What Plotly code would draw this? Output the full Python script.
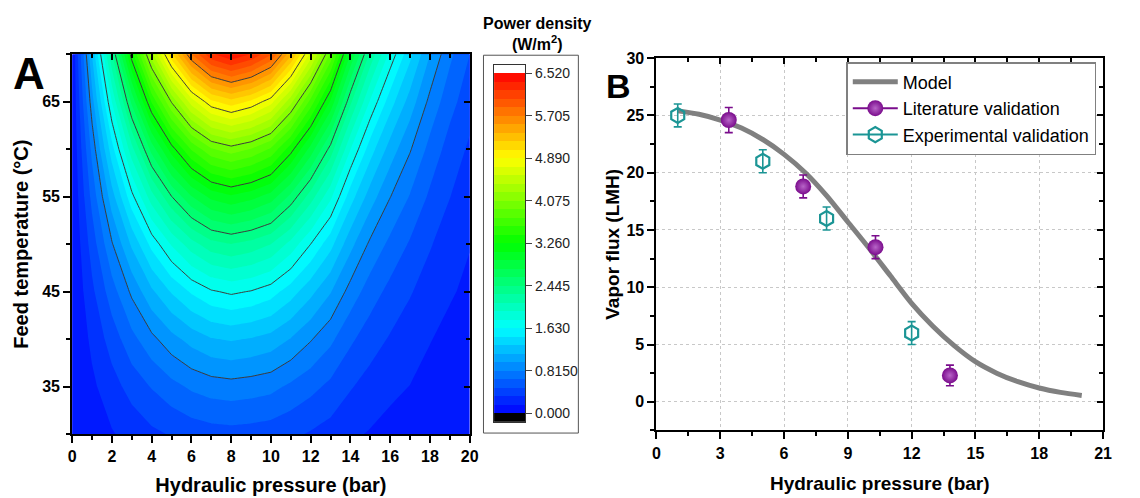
import plotly.graph_objects as go

pressure_A = list(range(0, 21))
temperature_A = [30, 35, 40, 45, 50, 55, 60, 65, 70]
power_density = [
    [0, 0.08, 0.15, 0.22, 0.29, 0.34, 0.39, 0.42, 0.43, 0.42, 0.40, 0.36, 0.31, 0.26, 0.19, 0.15, 0.11, 0.09, 0.06, 0.05, 0.03],
    [0, 0.13, 0.26, 0.39, 0.50, 0.60, 0.68, 0.73, 0.75, 0.73, 0.70, 0.62, 0.54, 0.45, 0.34, 0.26, 0.20, 0.16, 0.11, 0.08, 0.06],
    [0, 0.20, 0.40, 0.60, 0.77, 0.92, 1.04, 1.13, 1.16, 1.13, 1.08, 0.97, 0.83, 0.69, 0.52, 0.40, 0.31, 0.24, 0.17, 0.12, 0.09],
    [0, 0.29, 0.58, 0.85, 1.11, 1.32, 1.49, 1.61, 1.66, 1.62, 1.54, 1.38, 1.19, 0.99, 0.75, 0.57, 0.44, 0.34, 0.25, 0.18, 0.13],
    [0, 0.40, 0.80, 1.17, 1.52, 1.81, 2.05, 2.22, 2.28, 2.22, 2.12, 1.90, 1.63, 1.36, 1.03, 0.78, 0.61, 0.47, 0.34, 0.24, 0.17],
    [0, 0.54, 1.07, 1.58, 2.05, 2.44, 2.76, 2.98, 3.07, 2.99, 2.86, 2.56, 2.20, 1.83, 1.38, 1.06, 0.82, 0.64, 0.46, 0.33, 0.23],
    [0, 0.70, 1.40, 2.06, 2.67, 3.18, 3.60, 3.89, 4.00, 3.90, 3.72, 3.33, 2.87, 2.38, 1.80, 1.38, 1.07, 0.83, 0.60, 0.42, 0.30],
    [0, 0.91, 1.80, 2.65, 3.44, 4.09, 4.64, 5.01, 5.15, 5.02, 4.79, 4.29, 3.69, 3.07, 2.32, 1.77, 1.38, 1.07, 0.77, 0.55, 0.39],
    [0, 1.15, 2.27, 3.35, 4.34, 5.18, 5.86, 6.33, 6.51, 6.35, 6.05, 5.42, 4.67, 3.88, 2.93, 2.24, 1.74, 1.35, 0.98, 0.69, 0.49],
]
cb_levels = [0.0, 0.815, 1.63, 2.445, 3.26, 4.075, 4.89, 5.705, 6.52]
cb_labels = ["0.000", "0.8150", "1.630", "2.445", "3.260", "4.075", "4.890", "5.705", "6.520"]
n_bands = 40

# ---------------- Panel B data ----------------
model_p = [1, 2, 3, 4, 5, 6, 7, 8, 9, 10, 11, 12, 13, 14, 15, 16, 17, 18, 19, 20]
model_flux = [25.4, 25.1, 24.6, 23.9, 22.9, 21.6, 20.0, 18.0, 15.7, 13.4, 11.0, 8.6, 6.6, 4.9, 3.5, 2.5, 1.75, 1.2, 0.82, 0.55]
lit_p = [3.4, 6.9, 10.3, 13.8]
lit_flux = [24.6, 18.8, 13.5, 2.3]
lit_err = [1.1, 1.0, 1.0, 0.9]
exp_p = [1, 5, 8, 12]
exp_flux = [25.0, 21.0, 16.0, 6.0]
exp_err = [1.0, 1.0, 1.0, 1.0]

# ---------------- styling ----------------
W, H = 1140, 498
FONT = "Arial, 'Liberation Sans', sans-serif"
anchors = [(0.0, (0, 0, 255)), (0.25, (0, 255, 255)), (0.5, (0, 255, 0)), (0.75, (255, 255, 0)), (1.0, (255, 0, 0))]
rainbow = [[a, "rgb(%d,%d,%d)" % c] for a, c in anchors]


def ramp(f):
    for (a0, c0), (a1, c1) in zip(anchors[:-1], anchors[1:]):
        if a0 <= f <= a1:
            t = (f - a0) / (a1 - a0)
            return "rgb(%d,%d,%d)" % tuple(round(c0[i] + (c1[i] - c0[i]) * t) for i in range(3))
    return "rgb(255,0,0)"


step = cb_levels[-1] / n_bands
band_idx = list(range(-1, n_bands + 1))
band_colors = ["rgb(0,0,0)"] + [ramp((k + 0.5) / n_bands) for k in range(n_bands)] + ["rgb(255,255,255)"]
nb = len(band_colors)
cb_scale = []
for i, c in enumerate(band_colors):
    cb_scale.append([i / nb, c])
    cb_scale.append([(i + 1) / nb, c])


def px(x):
    return x / W


def py(y):
    return 1 - y / H


fig = go.Figure()

# filled contour
fig.add_trace(go.Contour(
    x=pressure_A, y=temperature_A, z=power_density,
    colorscale=rainbow, autocontour=False,
    contours=dict(start=0, end=6.6, size=step, coloring="fill", showlines=False),
    line=dict(width=0, smoothing=0), showscale=False, showlegend=False, hoverinfo="skip",
    xaxis="x", yaxis="y"))
# contour lines at major levels
fig.add_trace(go.Contour(
    x=pressure_A, y=temperature_A, z=power_density,
    autocontour=False,
    contours=dict(start=cb_levels[1], end=5.72, size=cb_levels[1], coloring="none"),
    line=dict(color="#3c3c3c", width=1, smoothing=0), showscale=False, showlegend=False,
    hoverinfo="skip", xaxis="x", yaxis="y"))

# colour bar drawn as heatmap
fig.add_trace(go.Heatmap(
    x=[0], y=[(k + 0.5) * step for k in band_idx], z=[[k] for k in band_idx],
    colorscale=cb_scale, zmin=-1.5, zmax=n_bands + 0.5, showscale=False, showlegend=False,
    hoverinfo="skip", xaxis="x3", yaxis="y3"))

# dummy traces to activate mirror axes
fig.add_trace(go.Scatter(x=[None], y=[None], xaxis="x5", yaxis="y5", showlegend=False, hoverinfo="skip"))
fig.add_trace(go.Scatter(x=[None], y=[None], xaxis="x6", yaxis="y6", showlegend=False, hoverinfo="skip"))

PURPLE = "#7a0c8c"
TEAL = "#1b9595"
GREY = "#808080"

fig.add_trace(go.Scatter(
    x=model_p, y=model_flux, mode="lines",
    line=dict(color=GREY, width=5, shape="spline", smoothing=0.8),
    name="Model", xaxis="x2", yaxis="y2", hoverinfo="skip"))
fig.add_trace(go.Scatter(
    x=lit_p, y=lit_flux, mode="markers", name="Literature validation", showlegend=False,
    legendgroup="lit",
    marker=dict(symbol="circle", size=16, color=PURPLE, line=dict(width=0),
                gradient=dict(type="radial", color="#b865c8")),
    error_y=dict(type="data", array=lit_err, color=PURPLE, thickness=1.6, width=4),
    xaxis="x2", yaxis="y2"))
fig.add_trace(go.Scatter(
    x=exp_p, y=exp_flux, mode="markers", name="Experimental validation", showlegend=False,
    legendgroup="exp",
    marker=dict(symbol="hexagon-open", size=15, color=TEAL, line=dict(width=2.2, color=TEAL)),
    error_y=dict(type="data", array=exp_err, color=TEAL, thickness=1.6, width=4),
    xaxis="x2", yaxis="y2"))
# legend entries (line + symbol as in reference)
fig.add_trace(go.Scatter(
    x=[None], y=[None], mode="lines+markers", name="Literature validation", legendgroup="lit",
    line=dict(color=PURPLE, width=2),
    marker=dict(symbol="circle", size=16, color=PURPLE, gradient=dict(type="radial", color="#b865c8")),
    xaxis="x2", yaxis="y2"))
fig.add_trace(go.Scatter(
    x=[None], y=[None], mode="lines+markers", name="Experimental validation", legendgroup="exp",
    line=dict(color=TEAL, width=2),
    marker=dict(symbol="hexagon-open", size=15, color=TEAL, line=dict(width=2.2, color=TEAL)),
    xaxis="x2", yaxis="y2"))

tickfont = dict(family=FONT, size=16, color="black", weight="bold")
titlefont = dict(family=FONT, size=20, color="black", weight="bold")
common = dict(showline=True, linecolor="black", linewidth=2, zeroline=False, tickcolor="black",
              tickwidth=2, tickfont=tickfont)

xA = [px(69), px(471)]
yA = [py(433), py(47)]
xB = [px(660), px(1111.7)]
yB = [py(429.3), py(51)]

fig.update_layout(
    width=W, height=H, margin=dict(l=0, r=0, t=0, b=0),
    paper_bgcolor="white", plot_bgcolor="white",
    font=dict(family=FONT, color="black"),
    showlegend=True,
    xaxis=dict(domain=xA, range=[0, 20], anchor="y", ticks="outside", ticklen=7, tick0=0, dtick=2,
               minor=dict(dtick=1, ticklen=4, tickwidth=2, ticks="outside", tickcolor="black"),
               showgrid=False, title=dict(text="Hydraulic pressure (bar)", font=titlefont, standoff=14),
               **common),
    yaxis=dict(domain=yA, range=[30, 70], anchor="x", ticks="outside", ticklen=7, tick0=35, dtick=10,
               minor=dict(dtick=5, ticklen=4, tickwidth=2, ticks="outside", tickcolor="black"),
               showgrid=False, title=dict(text="Feed temperature (°C)", font=titlefont, standoff=8),
               **common),
    xaxis5=dict(domain=xA, range=[0, 20], anchor="y", overlaying="x", side="top", ticks="inside",
                ticklen=6, tick0=0, dtick=2, showticklabels=False, showgrid=False,
                minor=dict(dtick=1, ticklen=4, tickwidth=2, ticks="inside", tickcolor="black"),
                **common),
    yaxis5=dict(domain=yA, range=[30, 70], anchor="x", overlaying="y", side="right", ticks="inside",
                ticklen=6, tick0=35, dtick=10, showticklabels=False, showgrid=False,
                minor=dict(dtick=5, ticklen=4, tickwidth=2, ticks="inside", tickcolor="black"),
                **common),
    xaxis3=dict(domain=[px(495.7), px(527.3)], range=[-0.5, 0.5], anchor="y3", showticklabels=False,
                ticks="", showgrid=False, zeroline=False, showline=True, mirror=True,
                linecolor="#333333", linewidth=1),
    yaxis3=dict(domain=[py(420.7), py(57.7)], range=[-step, cb_levels[-1] + step], anchor="x3",
                side="right", tickmode="array", tickvals=cb_levels, ticktext=cb_labels,
                ticks="outside", ticklen=6, tickwidth=1, tickcolor="#444444", showgrid=False,
                zeroline=False, showline=True, mirror=True, linecolor="#333333", linewidth=1,
                tickfont=dict(family=FONT, size=14, color="#222222")),
    xaxis2=dict(domain=xB, range=[0, 21], anchor="y2", ticks="outside", ticklen=7, tick0=0, dtick=3,
                minor=dict(dtick=1.5, ticklen=4, tickwidth=2, ticks="outside", tickcolor="black"),
                showgrid=True, gridcolor="#c8c8c8", griddash="dot", gridwidth=1,
                title=dict(text="Hydraulic pressure (bar)", font=dict(family=FONT, size=19, color="black", weight="bold"), standoff=16),
                **common),
    yaxis2=dict(domain=yB, range=[-2.5, 30], anchor="x2", ticks="outside", ticklen=7, tick0=0, dtick=5,
                minor=dict(dtick=2.5, ticklen=4, tickwidth=2, ticks="outside", tickcolor="black"),
                showgrid=True, gridcolor="#c8c8c8", griddash="dot", gridwidth=1,
                title=dict(text="Vapor flux (LMH)", font=dict(family=FONT, size=19, color="black", weight="bold"), standoff=2),
                **common),
    xaxis6=dict(domain=xB, range=[0, 21], anchor="y2", overlaying="x2", side="top", ticks="inside",
                ticklen=6, tick0=0, dtick=3, showticklabels=False, showgrid=False,
                minor=dict(dtick=1.5, ticklen=4, tickwidth=2, ticks="inside", tickcolor="black"),
                **common),
    yaxis6=dict(domain=yB, range=[-2.5, 30], anchor="x2", overlaying="y2", side="right", ticks="inside",
                ticklen=6, tick0=0, dtick=5, showticklabels=False, showgrid=False,
                minor=dict(dtick=2.5, ticklen=4, tickwidth=2, ticks="inside", tickcolor="black"),
                **common),
    legend=dict(x=px(852), y=py(55), xanchor="left", yanchor="top", bgcolor="white",
                bordercolor="#808080", borderwidth=1.5, itemwidth=45, tracegroupgap=0,
                font=dict(family=FONT, size=18, color="black")),
    shapes=[dict(type="rect", xref="paper", yref="paper", x0=px(485), x1=px(581), y0=py(432), y1=py(48),
                 line=dict(color="#555555", width=1), layer="below")],
    annotations=[
        dict(text="<b>A</b>", x=px(25), y=py(67), xref="paper", yref="paper", showarrow=False,
             font=dict(family=FONT, size=44, color="black"), xanchor="center", yanchor="middle"),
        dict(text="<b>B</b>", x=px(622), y=py(79), xref="paper", yref="paper", showarrow=False,
             font=dict(family=FONT, size=34, color="black"), xanchor="center", yanchor="middle"),
        dict(text="<b>Power density</b><br><b>(W/m<sup>2</sup>)</b>", x=px(540), y=py(26), xref="paper",
             yref="paper", showarrow=False, font=dict(family=FONT, size=16, color="black"),
             xanchor="center", yanchor="middle", align="center"),
    ],
)

fig.write_html("out.html")
